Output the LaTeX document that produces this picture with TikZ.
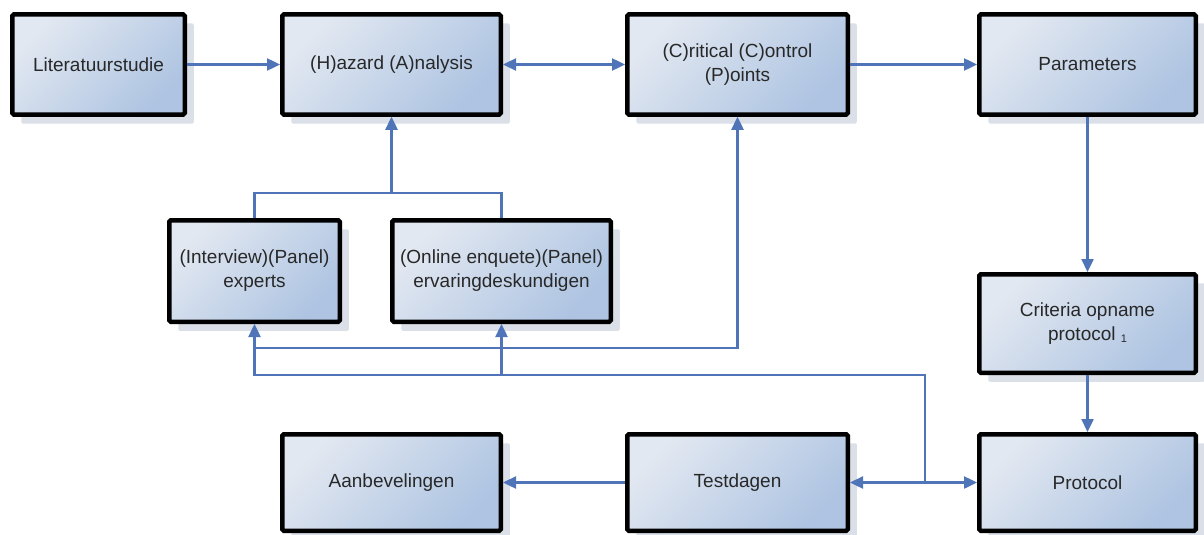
\documentclass[tikz,border=0pt]{standalone}
\usepackage{fontspec}
\setmainfont{Liberation Sans}
\usetikzlibrary{arrows.meta,shadows}
\definecolor{boxlight}{RGB}{226,232,241}
\definecolor{boxdark}{RGB}{174,196,226}
\definecolor{shadowc}{RGB}{218,223,232}
\definecolor{linkc}{RGB}{79,116,184}
\definecolor{textc}{RGB}{40,40,40}

\begin{document}
\begin{tikzpicture}[x=1pt,y=-1pt,
  stepbox/.style={draw=black, line width=4.5pt, rounded corners=1.5pt,
    top color=boxlight, bottom color=boxdark, shading angle=45,
    minimum height=100pt, inner sep=2pt, align=center, text=textc,
    font=\fontsize{19}{24}\selectfont,
    drop shadow={shadow xshift=9pt, shadow yshift=-9pt, fill=shadowc, opacity=1}},
  link/.style={draw=linkc, line width=2.4pt},
  arr/.style={link, -{Triangle[length=13pt,width=12pt]}},
  arr2/.style={link, {Triangle[length=13pt,width=12pt]}-{Triangle[length=13pt,width=12pt]}}
]
\useasboundingbox (0,0) rectangle (1204,535);
\fill[white] (0,0) rectangle (1204,535);

% top row
\node[stepbox, minimum width=172.5pt] (lit) at (98.5,64.5) {Literatuurstudie};
\node[stepbox, minimum width=218.5pt] (ha) at (391.5,64.5) {(H)azard (A)nalysis};
\node[stepbox, minimum width=220.5pt] (ccp) at (737.5,64.5) {(C)ritical (C)ontrol\\(P)oints};
\node[stepbox, minimum width=216.5pt] (par) at (1087.5,64.5) {Parameters};

% middle row
\node[stepbox, minimum width=170.5pt, minimum height=101.5pt] (exp) at (254.5,271) {(Interview)(Panel)\\experts};
\node[stepbox, minimum width=218.5pt, minimum height=101.5pt] (enq) at (501.5,271) {(Online enquete)(Panel)\\ervaringdeskundigen};
\node[stepbox, minimum width=216.5pt, minimum height=98.5pt] (crit) at (1087.5,323.5) {Criteria opname\\protocol \raisebox{-2pt}{\fontsize{11}{11}\selectfont 1}};

% bottom row
\node[stepbox, minimum width=218.5pt, minimum height=96.5pt] (aan) at (391.5,482.5) {Aanbevelingen};
\node[stepbox, minimum width=220.5pt, minimum height=96.5pt] (test) at (737.5,482.5) {Testdagen};
\node[stepbox, minimum width=216.5pt, minimum height=96.5pt] (prot) at (1087.5,482.5) {Protocol};

% routing levels
\coordinate (j) at (925,482.5);
\coordinate (low) at (0,375);
\coordinate (mid) at (0,348);
\coordinate (top) at (0,193);

% connectors
\draw[arr] (lit) -- (ha);
\draw[arr2] (ha) -- (ccp);
\draw[arr] (ccp) -- (par);
\draw[arr] (par) -- (crit);
\draw[arr] (crit) -- (prot);
\draw[arr] (test) -- (aan);
\draw[arr] (j) -- (test);
\draw[arr] (j) -- (prot);
\draw[arr] (j) |- (exp.south |- low) -- (exp.south);
\draw[arr] (enq.south |- low) -- (enq.south);
\draw[arr] (exp.south |- mid) -| (ccp.south);
\draw[link] (exp.north) |- (enq.north |- top) -- (enq.north);
\draw[arr] (ha.south |- top) -- (ha.south);
\end{tikzpicture}
\end{document}
